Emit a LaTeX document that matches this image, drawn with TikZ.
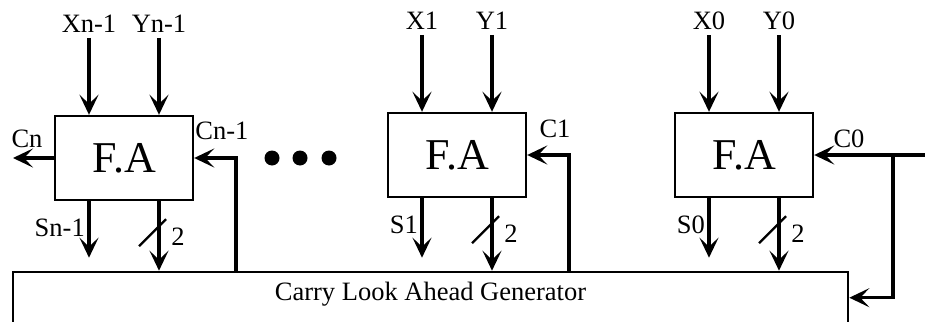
\documentclass[tikz,border=0pt]{standalone}
\usepackage{fontspec}
\setmainfont{Liberation Serif}
\usetikzlibrary{arrows.meta,calc,positioning}

\begin{document}
\begin{tikzpicture}[x=1pt,y=-1pt,
    faBox/.style={draw,line width=2.4pt,minimum width=138pt,minimum height=84pt,
      inner sep=0pt,font=\fontsize{44}{46}\selectfont},
    sigArrow/.style={line width=3.2pt,-{Stealth[length=20pt,width=19pt,inset=9pt]}},
    sigLabel/.style={font=\fontsize{26.5}{28}\selectfont,inner sep=0pt}]
  \useasboundingbox (0,0) rectangle (925,321);

  % full adders
  \node[faBox] (faN) at (124,158) {F.A};
  \node[faBox] (faOne) at (457,155) {F.A};
  \node[faBox] (faZero) at (744,155) {F.A};

  % carry look ahead generator
  \node[draw,line width=2.6pt,minimum width=835pt,text height=28pt,text depth=50pt,
    sigLabel,anchor=base] (cla) at (430.5,300) {Carry Look Ahead Generator};

  % inputs, sum and bus outputs
  \foreach \fa/\ix/\iy/\is in {faN/Xn-1/Yn-1/Sn-1,faOne/X1/Y1/S1,faZero/X0/Y0/S0}{
    \node[sigLabel,anchor=base] (\fa-x) at ($(\fa.north)+(-35,-82)$) {\ix};
    \node[sigLabel,anchor=base] (\fa-y) at ($(\fa.north)+(35,-82)$) {\iy};
    \draw[sigArrow,shorten <=5pt] (\fa-x) -- (\fa-x |- \fa.north);
    \draw[sigArrow,shorten <=5pt] (\fa-y) -- (\fa-y |- \fa.north);
    \coordinate (\fa-s) at ($(\fa.south)+(-35,0)$);
    \coordinate (\fa-b) at ($(\fa.south)+(35,0)$);
    \draw[sigArrow,shorten >=13pt] (\fa-s) -- (\fa-s |- cla.north);
    \node[sigLabel,anchor=east] (\fa-sl) at ($(\fa-s)+(-4,27)$) {\is};
    \draw[sigArrow] (\fa-b) -- (\fa-b |- cla.north);
    \draw[line width=2.4pt] ($(\fa-b)+(-20,45)$) -- ($(\fa-b)+(7,18)$);
    \node[sigLabel] (\fa-bl) at ($(\fa-b)+(19,36)$) {2};
  }

  % carries
  \coordinate (cnOut) at (13,158);
  \draw[sigArrow] (faN.west) -- (cnOut);
  \node[sigLabel] (cnLabel) at (27,139) {Cn};
  \coordinate (fbN) at (236,272);
  \draw[sigArrow] (fbN) |- (faN.east);
  \node[sigLabel,anchor=north west] (cnmLabel) at ($(faN.north east)+(1,7)$) {Cn-1};
  \coordinate (fbOne) at (569,272);
  \draw[sigArrow] (fbOne) |- (faOne.east);
  \node[sigLabel] (cOneLabel) at (555,129) {C1};
  \coordinate (cIn) at (925,155);
  \coordinate (cBranch) at (893,155);
  \draw[sigArrow] (cIn) -- (faZero.east);
  \draw[sigArrow] (cBranch) |- ($(cla.north east)+(0,27)$);
  \node[sigLabel] (cZeroLabel) at (849,139) {C0};

  % dots
  \foreach \x in {272,300,329}
    \fill (\x,158) circle (7.5pt);
\end{tikzpicture}
\end{document}
